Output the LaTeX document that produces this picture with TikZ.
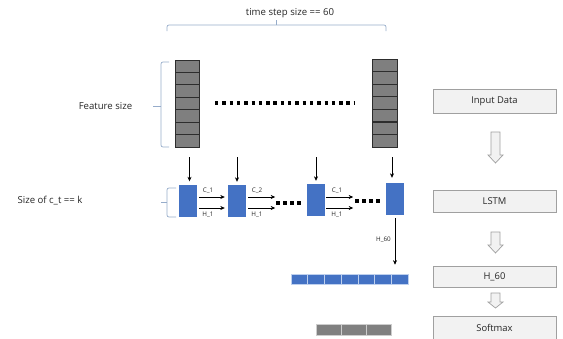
\documentclass[tikz,border=0pt]{standalone}
\usepackage{fontspec}
\setmainfont{Open Sans}
\usetikzlibrary{arrows.meta,calc}

\definecolor{cellgray}{RGB}{127,127,127}
\definecolor{celledge}{RGB}{45,45,45}
\definecolor{lstmblue}{RGB}{68,114,196}
\definecolor{rowedge}{RGB}{190,208,238}
\definecolor{softgray}{RGB}{128,128,128}
\definecolor{softedge}{RGB}{205,205,205}
\definecolor{bracecol}{RGB}{150,172,202}
\definecolor{boxfill}{RGB}{242,242,242}
\definecolor{boxedge}{RGB}{160,160,160}

% hollow downward block arrow: x, top, bottom, head length
\newcommand\hollowdown[4]{%
  \draw[hollow] ({#1-4.5},#2) -- ({#1+4.5},#2) -- ({#1+4.5},{#3-#4}) -- ({#1+7.5},{#3-#4})
    -- (#1,#3) -- ({#1-7.5},{#3-#4}) -- ({#1-4.5},{#3-#4}) -- cycle;}

\begin{document}
\begin{tikzpicture}[x=1pt,y=-1pt,
  lbl/.style={font=\fontsize{9.6}{11}\selectfont, text=black!85, inner sep=0pt},
  tinylbl/.style={font=\fontsize{6.3}{7}\selectfont, text=black!85, inner sep=0pt},
  featcell/.style={draw=celledge, fill=cellgray, line width=0.8pt,
    minimum height=12.43pt, inner sep=0pt},
  cellbox/.style={fill=lstmblue, minimum width=18pt, minimum height=32pt, inner sep=0pt},
  outcell/.style={fill=lstmblue, draw=rowedge, line width=0.6pt,
    minimum width=16.71pt, minimum height=10pt, inner sep=0pt},
  softcell/.style={fill=softgray, draw=softedge, line width=0.6pt,
    minimum width=25pt, minimum height=11pt, inner sep=0pt},
  flowbox/.style={draw=boxedge, fill=boxfill, line width=0.8pt,
    minimum width=123pt, inner sep=0pt, font=\fontsize{9.4}{11}\selectfont, text=black!85},
  hollow/.style={draw=boxedge, fill=boxfill, line width=0.7pt, line join=miter},
  arr/.style={-{Stealth[length=4.5pt,width=4pt]}, line width=0.6pt},
  bracket/.style={draw=bracecol, line width=0.7pt, rounded corners=2pt},
  dotrow/.style={line width=3.4pt, dash pattern=on 3.4pt off 3.9pt},
  bigdots/.style={line width=4pt, dash pattern=on 4pt off 3pt}]

\useasboundingbox (0,0) rectangle (563,338);

% ---- labels ----
\node[lbl] (ts) at (290,13) {time step size == 60};
\node[lbl] (fs) at (105.5,106.5) {Feature size};
\node[lbl] (ck) at (50,201) {Size of c\_t == k};

% ---- brackets ----
\draw[bracket] (167,31) -- (167,25) -- (386,25) -- (386,31);
\draw[draw=bracecol, line width=0.7pt] (276.5,25) -- (276.5,20);
\draw[bracket] (169,62) -- (161,62) -- (161,147) -- (169,147);
\draw[draw=bracecol, line width=0.7pt] (161,106) -- (153,106);
\draw[bracket] (176,188) -- (167,188) -- (167,217) -- (176,217);
\draw[draw=bracecol, line width=0.7pt] (167,202) -- (160.5,202);

% ---- input feature columns ----
\foreach \i in {1,...,7} {
  \node[featcell, minimum width=24pt] (l\i) at (187.5,{60+12.43*(\i-0.5)}) {};
  \node[featcell, minimum width=25.5pt] (r\i) at (385,{59+12.57*(\i-0.5)}) {};
}
\coordinate (dotsA) at (215,103);
\coordinate (dotsB) at (354,103);
\draw[dotrow] (dotsA) -- (dotsB);

% ---- LSTM cells ----
\node[cellbox] (b1) at (188,200.5) {};
\node[cellbox] (b2) at (237,201) {};
\node[cellbox] (b3) at (315.5,200) {};
\node[cellbox] (b4) at (395,199) {};

\coordinate (d1) at (189.5,157);
\coordinate (d2) at (237,157);
\coordinate (d3) at (316,157);
\coordinate (d4) at (392,157);
\draw[arr, shorten >=3pt] (d1) -- (d1 |- b1.north);
\draw[arr, shorten >=3pt] (d2) -- (d2 |- b2.north);
\draw[arr, shorten >=3pt] (d3) -- (d3 |- b3.north);
\draw[arr, shorten >=5pt] (d4) -- (d4 |- b4.north);

% state arrows
\draw[arr] ($(b1.east)+(2,-3.5)$) -- ($(b2.west)+(-3,-4)$);
\draw[arr] ($(b1.east)+(2,7.5)$) -- ($(b2.west)+(-3,7)$);
\draw[arr] ($(b2.east)+(2,-4)$) -- ++(27,0) coordinate (e2c);
\draw[arr] ($(b2.east)+(2,7)$) -- ++(27,0) coordinate (e2h);
\draw[arr] ($(b3.east)+(1.5,-3)$) -- ++(27,0) coordinate (e3c);
\draw[arr] ($(b3.east)+(1.5,8)$) -- ++(27,0) coordinate (e3h);

\node[tinylbl] (c1a) at (208,190.5) {C\_1};
\node[tinylbl] (h1a) at (208,215) {H\_1};
\node[tinylbl] (c2a) at (257,190.5) {C\_2};
\node[tinylbl] (h1b) at (257,215) {H\_1};
\node[tinylbl] (c1b) at (337,190.5) {C\_1};
\node[tinylbl] (h1c) at (337,215) {H\_1};

\coordinate (g1a) at (276,202.5);
\coordinate (g1b) at (302,202.5);
\coordinate (g2a) at (355,200.5);
\coordinate (g2b) at (381,200.5);
\draw[bigdots] (g1a) -- (g1b);
\draw[bigdots] (g2a) -- (g2b);

% ---- last hidden state ----
\foreach \i in {1,...,7}
  \node[outcell] (o\i) at ({291+16.71*(\i-0.5)},279) {};
\draw[arr, shorten <=3pt, shorten >=9pt] (b4.south) -- (b4.south |- o7.north);
\node[tinylbl, anchor=east] (h60) at (391,240) {H\_60};

% ---- softmax output ----
\foreach \i in {1,...,3}
  \node[softcell] (s\i) at ({316+25*(\i-0.5)},329.5) {};

% ---- flow chart ----
\node[flowbox, minimum height=24pt] (inp) at (494.5,101) {Input Data};
\node[flowbox, minimum height=22pt] (lstm) at (494.5,201) {LSTM};
\node[flowbox, minimum height=21pt] (hsix) at (494.5,276.5) {H\_60};
\node[flowbox, minimum height=24pt] (soft) at (494.5,328) {Softmax};

\hollowdown{495.5}{132}{163}{8}
\hollowdown{495.5}{232}{253}{8}
\hollowdown{495.5}{293}{308}{6}

\end{tikzpicture}
\end{document}
